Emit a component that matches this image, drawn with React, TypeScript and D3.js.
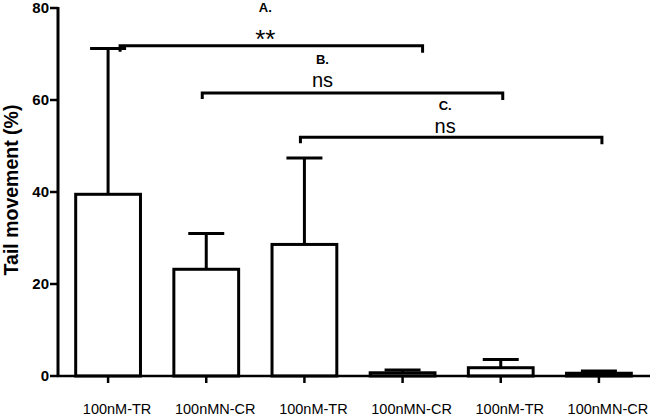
import React from "react";
import * as d3 from "d3";

const categories = ["100nM-TR", "100nMN-CR", "100nM-TR", "100nMN-CR", "100nM-TR", "100nMN-CR"];
const means = [39.5, 23.2, 28.6, 0.7, 1.8, 0.6];
const errors = [71.2, 31.0, 47.4, 1.3, 3.6, 1.1];
const yTicks = [0, 20, 40, 60, 80];

const bracketFrom = [0, 1, 2];
const bracketTo = [3, 4, 5];
const bracketLevel = [71.8, 61.5, 51.9];
const bracketLetter = ["A.", "B.", "C."];
const bracketSig = ["**", "ns", "ns"];

// layout-only tweaks
const bracketShiftL = [12, -4, -4];
const bracketShiftR = [20, 2, 3];
const bracketTextFrac = [0.48, 0.4, 0.48];
const letterRaise = [34, 29, 27];
const sigRaise = [-2, 6, 4];

const W = 650;
const H = 417;
const FONT = "'Liberation Sans', Arial, sans-serif";

export default function App() {
  const x = d3.scaleBand<number>().domain(d3.range(categories.length)).range([59, 648]).padding(0);
  const y = d3.scaleLinear().domain([0, 80]).range([376, 8]);
  const barW = x.bandwidth() * 0.66;
  const capW = 36;
  const cx = (i: number) => (x(i) as number) + x.bandwidth() / 2;

  return (
    <svg width={W} height={H} style={{ position: "absolute", left: 0, top: 0, background: "#fff" }}>
      {/* bars */}
      {means.map((m, i) => (
        <g key={"b" + i}>
          <line x1={cx(i)} x2={cx(i)} y1={y(m)} y2={y(errors[i])} stroke="#000" strokeWidth={3} />
          <line x1={cx(i) - capW / 2} x2={cx(i) + capW / 2} y1={y(errors[i])} y2={y(errors[i])} stroke="#000" strokeWidth={3} />
          <rect x={cx(i) - barW / 2} y={y(m)} width={barW} height={y(0) - y(m)} fill="#fff" stroke="#000" strokeWidth={3} />
        </g>
      ))}
      {/* axes */}
      <line x1={58} x2={58} y1={y(80) - 1} y2={y(0) + 1} stroke="#000" strokeWidth={3} />
      <line x1={57} x2={650} y1={y(0)} y2={y(0)} stroke="#000" strokeWidth={2.5} />
      {yTicks.map((t) => (
        <g key={"yt" + t}>
          <line x1={50} x2={58} y1={y(t)} y2={y(t)} stroke="#000" strokeWidth={2.5} />
          <text x={49} y={y(t) + 5} textAnchor="end" fontFamily={FONT} fontWeight="bold" fontSize={15} fill="#000">
            {t}
          </text>
        </g>
      ))}
      {categories.map((c, i) => (
        <g key={"xt" + i}>
          <line x1={cx(i)} x2={cx(i)} y1={y(0)} y2={y(0) + 7} stroke="#000" strokeWidth={2.5} />
          <text x={cx(i) + 9} y={414} textAnchor="middle" fontFamily={FONT} fontSize={14.5} fill="#000">
            {c}
          </text>
        </g>
      ))}
      <text
        transform={`translate(18,190) rotate(-90)`}
        textAnchor="middle"
        fontFamily={FONT}
        fontWeight="bold"
        fontSize={19.5}
        fill="#000"
      >
        Tail movement (%)
      </text>
      {/* brackets */}
      {bracketFrom.map((f, k) => {
        const x1 = cx(f) + bracketShiftL[k];
        const x2 = cx(bracketTo[k]) + bracketShiftR[k];
        const yy = y(bracketLevel[k]);
        const tx = x1 + (x2 - x1) * bracketTextFrac[k];
        return (
          <g key={"br" + k}>
            <path d={`M${x1},${yy + 6}V${yy}H${x2}V${yy + 7}`} fill="none" stroke="#000" strokeWidth={3} />
            <text x={tx} y={yy - letterRaise[k]} textAnchor="middle" fontFamily={FONT} fontWeight="bold" fontSize={13} fill="#000">
              {bracketLetter[k]}
            </text>
            <text
              x={tx}
              y={yy - sigRaise[k]}
              textAnchor="middle"
              fontFamily={FONT}
              fontSize={bracketSig[k] === "**" ? 26 : 20}
              fill="#000"
            >
              {bracketSig[k]}
            </text>
          </g>
        );
      })}
    </svg>
  );
}
